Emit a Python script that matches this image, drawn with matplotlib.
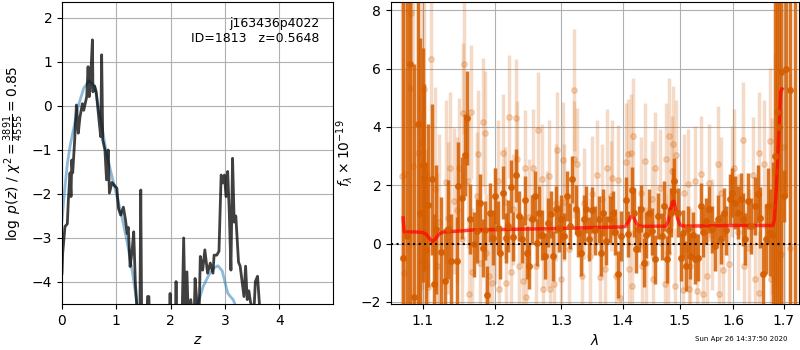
import numpy as np
import matplotlib
matplotlib.use("Agg")
import matplotlib.pyplot as plt
from matplotlib.ticker import NullLocator, NullFormatter, FixedLocator, FixedFormatter

# ---- p(z) panel data
z_pz = [0.0, 0.013, 0.055, 0.098, 0.117, 0.148, 0.166, 0.18, 0.197, 0.234,
        0.265, 0.30, 0.33, 0.375, 0.40, 0.455, 0.48, 0.50, 0.52, 0.56,
        0.57, 0.60, 0.63, 0.66, 0.70, 0.713, 0.73, 0.75, 0.79, 0.82,
        0.85, 0.873, 0.92, 0.96, 1.01, 1.04, 1.08, 1.13, 1.17, 1.20,
        1.22, 1.254, 1.29, 1.32, 1.35, 1.37, 1.39, 1.43, 1.45, 1.47,
        1.55, 1.575, 1.60, 1.62, 1.97, 1.99, 2.01, 2.08, 2.10, 2.12,
        2.20, 2.24, 2.27, 2.30, 2.33, 2.37, 2.43, 2.45, 2.48, 2.52,
        2.546, 2.59, 2.63, 2.68, 2.73, 2.78, 2.80, 2.85, 2.89, 2.93,
        2.96, 2.99, 3.02, 3.05, 3.08, 3.11, 3.14, 3.17, 3.20, 3.25,
        3.28, 3.35, 3.38, 3.41, 3.44, 3.47, 3.50, 3.54, 3.56, 3.60,
        3.64, 3.66, 5.0]
logp = [-3.8, -3.34, -2.74, -2.68, -2.14, -1.52, -2.06, -1.23, -1.52, -0.77,
        0.02, -0.62, -0.26, 0.05, -0.10, 0.21, 0.89, 0.21, 0.43, 1.50,
        0.32, 0.45, 0.32, -0.06, -0.55, -0.70, 1.16, -0.77, -1.00, -1.68,
        -1.00, -1.98, -1.74, -1.80, -1.87, -2.33, -2.48, -2.30, -2.60, -2.90,
        -2.76, -3.65, -3.30, -2.86, -4.00, -4.40, -4.90, -5.50, -1.91, -5.50,
        -5.50, -4.33, -4.33, -5.50, -5.50, -4.26, -5.50, -5.50, -3.99, -5.50,
        -5.50, -3.00, -5.00, -3.77, -5.00, -4.40, -5.00, -3.92, -4.40, -5.00,
        -3.42, -3.73, -3.27, -3.80, -3.57, -3.80, -3.39, -3.39, -3.30, -1.57,
        -1.75, -1.57, -2.06, -1.49, -2.43, -3.73, -1.19, -2.64, -2.50, -3.55,
        -3.64, -4.33, -3.64, -4.40, -4.20, -4.45, -4.60, -4.50, -3.99, -3.87,
        -4.60, -6.0, -6.0]

z_fit = [0.0, 0.05, 0.1, 0.15, 0.2, 0.3, 0.4, 0.5, 0.6, 0.7,
         0.8, 0.9, 1.0, 1.1, 1.2, 1.3, 1.38, 1.6, 2.0, 2.4,
         2.5, 2.6, 2.7, 2.8, 2.87, 2.95, 3.0, 3.05, 3.1, 3.15,
         3.2, 3.4, 5.0]
chi2_fit = [-2.6, -1.9, -1.3, -0.9, -0.6, 0.0, 0.4, 0.57, 0.45, -0.2,
            -0.95, -1.5, -2.0, -2.5, -3.1, -3.8, -4.5, -6.0, -6.5, -5.0,
            -4.5, -4.1, -3.85, -3.68, -3.63, -3.75, -4.0, -4.25, -4.33, -4.4,
            -4.55, -5.5, -8.0]

# ---- spectrum panel data (flux in 1e-19)
dark_wave = [1.0745, 1.0790, 1.0834, 1.0890, 1.0934, 1.0966, 1.1000, 1.1020, 1.1045, 1.1076,
             1.1120, 1.1155, 1.1186, 1.1250, 1.1308, 1.1345, 1.1390, 1.1460, 1.1480, 1.1530,
             1.1577, 1.1604, 1.1645, 1.1700, 1.1746, 1.1790, 1.1828, 1.1860, 1.1895, 1.1934,
             1.1970, 1.2005, 1.2054, 1.2079, 1.2127, 1.2167, 1.2200, 1.2235, 1.2270, 1.2313,
             1.2360, 1.2395, 1.2440, 1.2480, 1.2510, 1.2545, 1.2595, 1.2630, 1.2660, 1.2710,
             1.2745, 1.2795, 1.2845, 1.2880, 1.2920, 1.2960, 1.2995, 1.3047, 1.3097, 1.3133,
             1.3180, 1.3230, 1.3270, 1.3315, 1.3357, 1.3395, 1.3437, 1.3490, 1.3545, 1.3600,
             1.3640, 1.3680, 1.3730, 1.3790, 1.3840, 1.3880, 1.3925, 1.3980, 1.4050, 1.4100,
             1.4155, 1.4190, 1.4225, 1.4280, 1.4320, 1.4365, 1.4410, 1.4450, 1.4505, 1.4565,
             1.4620, 1.4680, 1.4720, 1.4765, 1.4805, 1.4835, 1.4870, 1.4900, 1.4975, 1.5015,
             1.5060, 1.5110, 1.5150, 1.5195, 1.5235, 1.5280, 1.5330, 1.5390, 1.5435, 1.5485,
             1.5540, 1.5590, 1.5650, 1.5700, 1.5760, 1.5820, 1.5865, 1.5930, 1.5975, 1.6025,
             1.6090, 1.6140, 1.6185, 1.6235, 1.6290, 1.6355, 1.6420, 1.6475, 1.6520, 1.6590,
             1.6640, 1.6680, 1.6730, 1.6780, 1.6830, 1.6870, 1.6910, 1.6950, 1.7000, 1.7050,
             1.7130, 1.7240]
dark_flux = [-0.50, 0.26, 6.14, -1.83, 4.09, 1.06, 2.69, 2.26, -0.22, 1.31,
             2.20, -1.39, 0.49, -0.30, -1.28, 0.49, -0.60, -0.60, 1.97, 1.57,
             3.03, 4.31, 0.83, -0.03, 0.43, 1.40, -0.14, 0.45, -1.76, 1.06,
             0.20, 1.63, 0.55, -0.31, 1.75, 0.20, 0.60, 1.95, 0.24, 2.34,
             0.95, 0.15, 1.48, -0.31, -0.77, 0.83, 1.63, 0.03, 1.06, 0.30,
             -0.42, 0.72, 1.00, -0.42, 1.17, 0.52, 0.83, 0.26, 1.63, 0.60,
             2.20, 1.17, 0.35, -0.31, 0.83, 1.17, 0.15, 1.15, 0.45, 0.83,
             -0.31, 1.06, 0.10, 0.83, 1.06, 0.40, -1.05, 0.26, 1.48, 0.33,
             1.84, 1.06, -0.20, 0.50, 1.20, -0.65, 0.30, 1.06, 0.42, -0.54,
             0.95, 0.25, 1.29, -0.54, 0.45, 1.06, 1.80, 2.14, 1.06, -0.48,
             0.35, -0.77, 0.49, -0.42, 0.30, -0.54, -0.48, 1.29, 0.40, 0.77,
             1.17, 0.49, -0.08, 0.83, 0.15, 1.06, 0.45, 1.52, 1.75, 1.40,
             1.06, 1.52, 0.83, 0.15, 1.46, 0.60, 1.29, 1.69, 0.89, -1.05,
             0.15, 1.29, 0.38, 0.30, 3.00, 4.50, 4.00, 5.88, 1.63, 6.00,
             5.26, 9.50]
dark_err = [9.0, 8.5, 9.0, 8.0, 7.0, 6.0, 4.0, 3.2, 3.0, 2.8,
            2.6, 2.4, 2.2, 1.9, 1.8, 1.7, 1.6, 1.5, 1.5, 1.4,
            1.4, 1.6, 1.2, 1.1, 1.1, 1.0, 1.0, 1.0, 1.0, 1.0,
            0.95, 0.95, 0.9, 0.9, 0.9, 0.85, 0.9, 0.9, 0.85, 0.9,
            0.85, 0.8, 0.85, 0.9, 0.8, 0.85, 0.85, 0.8, 0.9, 0.85,
            0.8, 0.85, 0.8, 0.85, 0.8, 0.8, 0.85, 0.8, 0.85, 0.8,
            0.8, 0.85, 0.8, 0.8, 0.85, 0.8, 0.75, 0.8, 0.85, 0.8,
            0.8, 0.8, 0.85, 0.8, 0.75, 0.8, 0.8, 0.85, 0.8, 0.8,
            0.8, 0.85, 0.8, 0.8, 0.8, 0.85, 0.8, 0.8, 0.8, 0.85,
            0.8, 0.8, 0.85, 0.8, 0.8, 0.85, 0.8, 0.8, 0.85, 0.8,
            0.8, 0.85, 0.8, 0.8, 0.8, 0.85, 0.8, 0.8, 0.85, 0.8,
            0.8, 0.8, 0.85, 0.85, 0.85, 0.85, 0.85, 0.85, 0.85, 0.9,
            0.9, 0.9, 0.9, 0.9, 0.95, 0.95, 1.0, 1.0, 1.05, 1.1,
            1.2, 1.3, 1.5, 2.5, 6.0, 9.0, 7.0, 9.0, 0.9, 4.4,
            9.0, 12.5]

light_wave = [1.0730, 1.0760, 1.0774, 1.0834, 1.0850, 1.0878, 1.0943, 1.0987, 1.0995, 1.1018,
              1.1040, 1.1067, 1.1110, 1.1164, 1.1200, 1.1222, 1.1320, 1.1345, 1.1366, 1.1420,
              1.1460, 1.1500, 1.1540, 1.1553, 1.1560, 1.1620, 1.1630, 1.1664, 1.1680, 1.1746,
              1.1762, 1.1790, 1.1828, 1.1860, 1.1880, 1.1920, 1.1957, 1.2010, 1.2054, 1.2066,
              1.2127, 1.2155, 1.2170, 1.2215, 1.2235, 1.2270, 1.2313, 1.2330, 1.2360, 1.2420,
              1.2440, 1.2460, 1.2500, 1.2560, 1.2610, 1.2646, 1.2700, 1.2720, 1.2780, 1.2810,
              1.2830, 1.2890, 1.2915, 1.2943, 1.3000, 1.3025, 1.3050, 1.3125, 1.3197, 1.3210,
              1.3250, 1.3325, 1.3360, 1.3460, 1.3500, 1.3570, 1.3625, 1.3660, 1.3710, 1.3740,
              1.3805, 1.3820, 1.3895, 1.3925, 1.3950, 1.4060, 1.4085, 1.4115, 1.4140, 1.4165,
              1.4184, 1.4320, 1.4340, 1.4376, 1.4405, 1.4510, 1.4530, 1.4560, 1.4655, 1.4735,
              1.4745, 1.4790, 1.4805, 1.4855, 1.4885, 1.4910, 1.4930, 1.5055, 1.5070, 1.5150,
              1.5165, 1.5195, 1.5280, 1.5320, 1.5390, 1.5420, 1.5500, 1.5540, 1.5600, 1.5715,
              1.5730, 1.5760, 1.5810, 1.5925, 1.5970, 1.6005, 1.6100, 1.6185, 1.6200, 1.6305,
              1.6375, 1.6430, 1.6495, 1.6510, 1.6605, 1.6725, 1.6740, 1.6770, 1.6820, 1.6955,
              1.7000, 1.7125]
light_flux = [2.30, -1.02, 2.37, 5.34, 7.90, 2.66, 3.09, 3.46, -0.60, 5.30,
              -0.75, -1.50, 6.33, 1.86, -0.78, 0.74, 2.12, 0.89, 2.60, 1.46,
              1.15, 2.60, 0.15, 4.49, 6.15, 2.14, -1.71, 4.50, -0.98, 1.63,
              3.06, -0.65, 4.17, 3.80, -0.31, -1.11, -1.36, 0.60, 2.14, -1.56,
              3.12, 1.42, -1.34, 4.35, -0.99, 1.17, 4.32, 2.89, -0.77, -1.28,
              2.58, -1.83, 0.90, 2.60, -0.77, 3.88, 2.20, -1.56, 0.50, 2.32,
              -1.56, -1.39, 1.40, 3.20, -1.22, 2.85, 1.42, -0.20, 5.26, 2.89,
              2.74, -1.11, 1.38, -0.42, 1.69, 2.34, -1.13, 1.52, -0.88, 2.60,
              1.63, 2.24, -1.11, 2.17, -1.85, 2.81, 3.06, -0.88, 3.12, -1.45,
              3.69, 1.75, -0.77, 2.83, -0.65, 1.52, -1.22, 2.60, 1.92, -1.39,
              2.91, -0.31, 3.69, 2.49, 3.40, -1.45, 3.02, -1.59, 1.75, 2.03,
              -1.56, -0.77, 2.14, -1.62, 2.37, -1.74, -1.11, 2.09, 0.30, 2.72,
              -1.74, 1.75, -0.90, -0.71, 2.14, 2.60, 0.40, 3.55, -0.77, -0.14,
              2.34, -1.22, 3.09, -1.68, 2.72, 3.52, -1.22, 1.29, 2.50, -0.37,
              3.30, -0.14]
light_err = [8.0, 7.0, 8.0, 8.0, 8.0, 7.0, 6.0, 5.0, 5.0, 4.5,
             4.0, 4.0, 4.0, 3.5, 3.2, 3.0, 2.8, 2.6, 2.6, 2.5,
             2.5, 2.4, 2.4, 2.4, 2.4, 2.3, 2.3, 2.3, 2.2, 2.2,
             2.2, 2.1, 2.2, 2.1, 2.0, 2.1, 2.0, 2.0, 2.1, 2.0,
             2.0, 1.9, 2.0, 2.1, 2.0, 1.9, 2.0, 2.0, 1.9, 2.0,
             2.0, 1.9, 2.0, 2.0, 1.9, 2.0, 1.9, 2.0, 2.0, 1.9,
             2.0, 1.9, 2.0, 2.0, 1.9, 2.0, 2.0, 1.9, 2.1, 2.0,
             1.9, 2.0, 1.9, 2.0, 2.0, 1.9, 2.0, 1.9, 2.0, 2.0,
             1.9, 2.0, 2.0, 1.9, 2.0, 2.0, 1.9, 2.0, 2.0, 1.9,
             2.0, 1.9, 2.0, 2.0, 1.9, 2.0, 2.0, 1.9, 2.0, 2.0,
             1.9, 2.0, 2.0, 1.9, 2.0, 2.0, 1.9, 2.0, 2.0, 1.9,
             2.0, 2.0, 1.9, 2.0, 2.0, 1.9, 2.0, 2.0, 1.9, 2.0,
             2.0, 1.9, 2.0, 2.0, 1.9, 2.0, 2.0, 2.0, 1.9, 2.0,
             2.0, 2.0, 2.1, 2.1, 2.2, 2.5, 2.5, 3.0, 4.0, 5.0,
             6.0, 6.0]

model_wave = [1.0745, 1.0760, 1.0800, 1.0900, 1.1000, 1.1050, 1.1100, 1.1130, 1.1170, 1.1220,
              1.1280, 1.1500, 1.1700, 1.2000, 1.2500, 1.3000, 1.3500, 1.4000, 1.4050, 1.4100,
              1.4140, 1.4170, 1.4200, 1.4240, 1.4280, 1.4350, 1.4750, 1.4790, 1.4830, 1.4865,
              1.4890, 1.4920, 1.4960, 1.5000, 1.5050, 1.5100, 1.6000, 1.6780, 1.6810, 1.6850,
              1.6900, 1.6940, 1.6970]
model_flux = [0.88, 0.40, 0.40, 0.40, 0.38, 0.32, 0.15, 0.07, 0.15, 0.33,
              0.40, 0.43, 0.47, 0.48, 0.50, 0.52, 0.55, 0.57, 0.59, 0.75,
              0.92, 0.95, 0.85, 0.68, 0.60, 0.59, 0.60, 0.75, 1.15, 1.42,
              1.45, 1.25, 0.85, 0.65, 0.61, 0.60, 0.62, 0.62, 0.80, 1.8,
              3.6, 5.2, 5.3]

wave_ticks = [1.1, 1.2, 1.3, 1.4, 1.5, 1.6, 1.7]
grism_color = (0.835, 0.369, 0.0)

fig = plt.figure(figsize=(8, 3.5), dpi=100)

# left: p(z)
ax1 = fig.add_axes([0.0775, 0.1314, 0.3388, 0.8629])
ax1.plot(z_fit, chi2_fit, color='#1f77b4', alpha=0.5, lw=2)
ax1.plot(z_pz, logp, color='k', alpha=0.75, lw=2)
ax1.set_xlim(0, 4.99)
ax1.set_ylim(-4.5, 2.36)
ax1.set_xticks([0, 1, 2, 3, 4])
ax1.set_yticks([-4, -3, -2, -1, 0, 1, 2])
ax1.grid()
ax1.set_xlabel(r'$z$')
ax1.set_ylabel(r'$\log\ p(z)$ / $\chi^2=\frac{3891}{4555}=0.85$')
ax1.text(0.95, 0.95, 'j163436p4022\nID=1813   z=0.5648', transform=ax1.transAxes,
         ha='right', va='top', fontsize=9)

# right: spectrum
ax2 = fig.add_axes([0.4888, 0.1314, 0.51, 0.8629])
ax2.errorbar(light_wave, light_flux, light_err, color=grism_color, alpha=0.22,
             marker='o', markersize=4, linestyle='None', elinewidth=2.5)
ax2.errorbar(dark_wave, dark_flux, dark_err, color=grism_color, alpha=0.85,
             marker='o', markersize=4, linestyle='None', elinewidth=2.5)
ax2.plot(model_wave, model_flux, color='red', alpha=0.7, lw=2.5)
ax2.axhline(0, color='k', linestyle=':', lw=1.5)
ax2.set_xscale('log')
ax2.set_xlim(1.059, 1.732)
ax2.set_ylim(-2.07, 8.28)
ax2.xaxis.set_major_locator(FixedLocator(wave_ticks))
ax2.xaxis.set_major_formatter(FixedFormatter(['%.1f' % w for w in wave_ticks]))
ax2.xaxis.set_minor_locator(NullLocator())
ax2.xaxis.set_minor_formatter(NullFormatter())
ax2.set_yticks([-2, 0, 2, 4, 6, 8])
ax2.grid()
ax2.set_xlabel(r'$\lambda$')
ax2.set_ylabel(r'$f_\lambda\times10^{-19}$')

fig.text(0.984, 0.022, 'Sun Apr 26 14:37:50 2020', ha='right', va='bottom', fontsize=5)

fig.savefig('out.png', dpi=100)
